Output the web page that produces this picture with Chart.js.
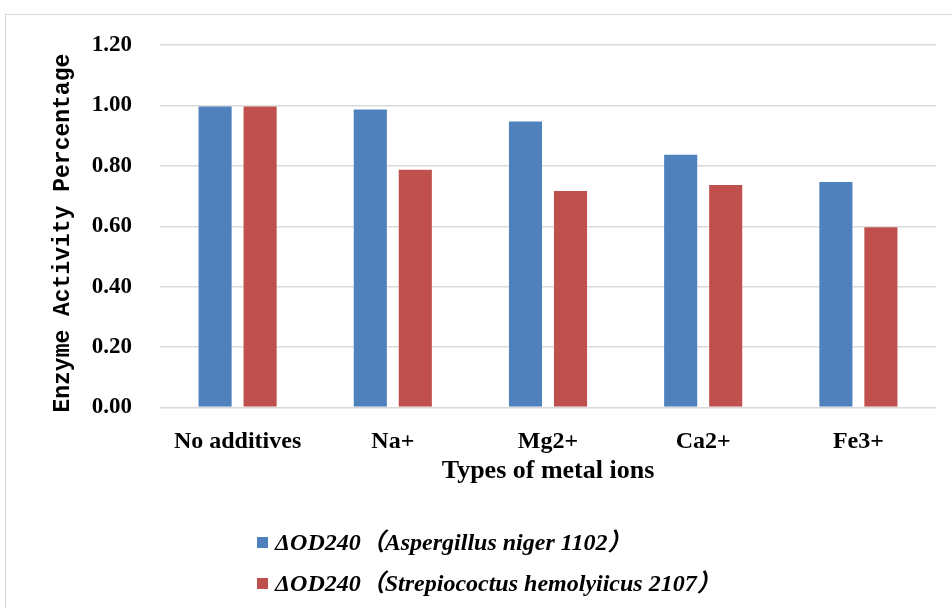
<!DOCTYPE html>
<html>
<head>
<meta charset="utf-8">
<script src="https://cdn.jsdelivr.net/npm/chart.js@4/dist/chart.umd.min.js"></script>
<style>
  html, body { margin: 0; padding: 0; background: #ffffff; }
  #wrap { position: relative; width: 952px; height: 608px; overflow: hidden; }
  #frame { position: absolute; left: 5px; top: 14px; width: 970px; height: 620px;
           border: 1px solid #d9d9d9; box-sizing: border-box; }
  canvas { position: absolute; left: 0; top: 0; }
  #legend { position: absolute; left: 257px; top: 527px; }
  .item { position: relative; height: 41px; }
  .swatch { position: absolute; left: 0; top: 10px; width: 11px; height: 11px; }
  .label { position: absolute; left: 18px; top: 0; white-space: nowrap;
           font: italic bold 24px "Liberation Serif", "Noto Sans CJK SC", serif; color: #000; line-height: 30px; }
</style>
</head>
<body>
<div id="wrap">
  <div id="frame"></div>
  <canvas id="chart" width="952" height="608"></canvas>
  <div id="legend"></div>
</div>
<script>
// Enzyme activity under different metal ions
const categories = ['No additives', 'Na+', 'Mg2+', 'Ca2+', 'Fe3+'];
const seriesNames = ['ΔOD240（Aspergillus niger 1102）', 'ΔOD240（Strepiococtus hemolyiicus 2107）'];
const aspergillus = [1.00, 0.99, 0.95, 0.84, 0.75];
const strepiococtus = [1.00, 0.79, 0.72, 0.74, 0.60];
const yTicks = [0, 0.2, 0.4, 0.6, 0.8, 1.0, 1.2];
const colors = ['#4f81bd', '#c0504d'];

const serifBold = { family: '"Liberation Serif", "Times New Roman", serif', weight: 'bold' };

const chart = new Chart(document.getElementById('chart'), {
  type: 'bar',
  data: {
    labels: categories,
    datasets: [
      { label: seriesNames[0], data: aspergillus, backgroundColor: colors[0],
        borderColor: 'rgba(255,255,255,0.35)', borderWidth: 1 },
      { label: seriesNames[1], data: strepiococtus, backgroundColor: colors[1],
        borderColor: 'rgba(255,255,255,0.35)', borderWidth: 1 }
    ]
  },
  options: {
    responsive: false,
    animation: false,
    datasets: { bar: { categoryPercentage: 0.58, barPercentage: 0.78 } },
    layout: { padding: { left: 48, top: 45, right: 16, bottom: 115.5 } },
    plugins: {
      legend: { display: false },
      tooltip: { enabled: false }
    },
    scales: {
      x: {
        grid: { display: false },
        border: { display: false },
        ticks: { color: '#000', padding: 12, font: { ...serifBold, size: 24 } },
        title: { display: true, text: 'Types of metal ions', color: '#000',
                 padding: { top: 0, bottom: 6 }, font: { ...serifBold, size: 26 } },
        afterFit: s => { s.height = 85; }
      },
      y: {
        min: 0, max: 1.2,
        afterBuildTicks: s => { s.ticks = yTicks.map(v => ({ value: v })); },
        grid: { color: '#d9d9d9', lineWidth: 1.5, drawTicks: false },
        border: { display: false },
        ticks: { color: '#000', padding: 28, font: { ...serifBold, size: 23 },
                 callback: v => Number(v).toFixed(2) },
        title: { display: true, text: 'Enzyme Activity Percentage ', color: '#000',
                 padding: { top: 1, bottom: 0 },
                 font: { family: '"Liberation Mono", "DejaVu Sans Mono", monospace', size: 23, weight: 'bold' } },
        afterFit: s => { s.width = 112; }
      }
    }
  }
});

// Legend stacked below the chart, one series per line
const legendEl = document.getElementById('legend');
chart.data.datasets.forEach(ds => {
  const item = document.createElement('div');
  item.className = 'item';
  const sw = document.createElement('div');
  sw.className = 'swatch';
  sw.style.background = ds.backgroundColor;
  const lb = document.createElement('div');
  lb.className = 'label';
  lb.textContent = ds.label;
  item.appendChild(sw);
  item.appendChild(lb);
  legendEl.appendChild(item);
});
</script>
</body>
</html>
